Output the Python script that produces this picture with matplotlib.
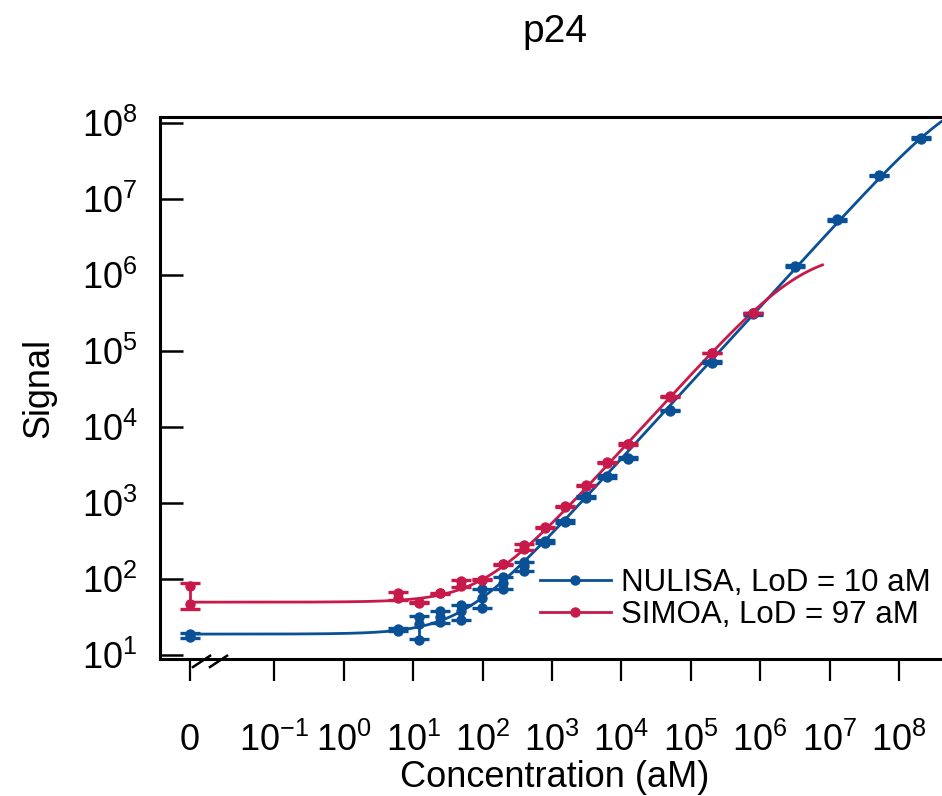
import numpy as np
import matplotlib
matplotlib.use('Agg')
import matplotlib.pyplot as plt
from matplotlib.lines import Line2D

plt.rcParams['font.family'] = ['Liberation Sans', 'DejaVu Sans']
plt.rcParams['mathtext.fontset'] = 'custom'
plt.rcParams['mathtext.rm'] = 'Liberation Sans'
plt.rcParams['mathtext.it'] = 'Liberation Sans:italic'

# ## Data ## #

# concentrations in aM (0 is drawn at a fake position left of the break)
concNulisa = [0, 6.1, 12.2, 24.4, 48.8, 97.7, 195, 391, 781, 1563, 3125,
              6250, 12500, 50000, 2e5, 8e5, 3.2e6, 1.28e7, 5.12e7, 2.048e8]
concSimoa = [0, 6.1, 12.2, 24.4, 48.8, 97.7, 195, 391, 781, 1563, 3125,
             6250, 12500, 50000, 2e5, 8e5]

# replicate signals for every concentration
signalNulisa = [[19, 17.2], [22.5, 21], [32, 26, 16], [38, 32, 27],
                [46, 38, 29], [74, 57, 42], [108, 90, 74], [170, 150, 128],
                [320, 300], [590, 560], [1230, 1170], [2300, 2200],
                [4000, 3850], [16800, 16300], [73000, 70500],
                [315000, 305000], [1.34e6, 1.3e6], [5.5e6, 5.3e6],
                [2.08e7, 2.05e7], [6.5e7, 6.3e7]]
signalSimoa = [[82, 48], [66, 56], [50, 49], [66, 65], [96, 82], [99, 97],
               [160, 157], [285, 250], [490, 478], [910, 890], [1740, 1710],
               [3450, 3400], [6100, 5950], [25600, 25200], [96000, 95000],
               [323000, 320000]]

# 4PL fit parameters: bottom, top, ec50, hill slope
fitNulisa = [19, 3.2e8, 8.3e8, 1.0]
fitSimoa = [50, 2.1e6, 4.2e6, 1.0]
fitEndNulisa = 5e8
fitEndSimoa = 7.9e6

labels = ['NULISA, LoD = 10 aM', 'SIMOA, LoD = 97 aM']
colors = ['#0A5096', '#C8194B']

xTickExp = [-1, 0, 1, 2, 3, 4, 5, 6, 7, 8]
yTickExp = [1, 2, 3, 4, 5, 6, 7, 8]

zeroPos = 10 ** -2.22  # where the 0 concentration sits on the log axis


def logistic(x, p):
    # four parameter logistic curve
    a, d, c, b = p
    return d + (a - d) / (1 + (x / c) ** b)


def plot_series(ax, conc, signal, fit, fitEnd, color):
    conc = np.array(conc, dtype=float)
    xPos = np.where(conc == 0, zeroPos, conc)

    xs = np.logspace(np.log10(zeroPos), np.log10(fitEnd), 400)
    ax.plot(xs, logistic(xs, fit), color=color, lw=2.0, zorder=2)

    means = np.array([np.mean(s) for s in signal])
    sds = np.array([np.std(s, ddof=1) for s in signal])
    ax.errorbar(xPos, means, yerr=sds, fmt='none', ecolor=color,
                elinewidth=2.0, capsize=7.5, capthick=2.4, zorder=3)

    xRep = np.concatenate([[x] * len(s) for x, s in zip(xPos, signal)])
    yRep = np.concatenate([s for s in signal])
    ax.plot(xRep, yRep, 'o', color=color, ms=7.5, mew=0, zorder=4)


def main():
    fig = plt.figure(figsize=(9.42, 7.96), dpi=100)
    ax = fig.add_axes([160 / 942, 137 / 796, 782 / 942, 542 / 796])

    plot_series(ax, concNulisa, signalNulisa, fitNulisa, fitEndNulisa,
                colors[0])
    plot_series(ax, concSimoa, signalSimoa, fitSimoa, fitEndSimoa,
                colors[1])

    ax.set_xscale('log')
    ax.set_yscale('log')
    ax.set_xlim(10 ** -2.65, 10 ** 8.62)
    ax.set_ylim(10 ** 0.951, 10 ** 8.083)

    ax.set_xticks([zeroPos] + [10.0 ** e for e in xTickExp])
    ax.set_xticklabels(['0'] + [r'$\mathregular{10^{%d}}$' % e
                                for e in xTickExp])
    ax.set_yticks([10.0 ** e for e in yTickExp])
    ax.set_yticklabels([r'$\mathregular{10^{%d}}$' % e for e in yTickExp])
    ax.minorticks_off()

    ax.tick_params(axis='x', direction='out', length=16, width=1.6,
                   pad=30, labelsize=26)
    ax.tick_params(axis='y', direction='in', length=16.5, width=1.8,
                   pad=16, labelsize=26)

    for side in ['left', 'bottom', 'top']:
        ax.spines[side].set_linewidth(2.2)
    ax.spines['right'].set_visible(False)

    # axis break marks between 0 and 10^-1
    for x0 in [0.0422, 0.0639]:
        ax.plot([x0, x0 + 0.0218], [-0.0148, 0.006], transform=ax.transAxes,
                color='black', lw=1.8, clip_on=False, zorder=5)

    ax.set_xlabel('Concentration (aM)', fontsize=26)
    ax.xaxis.set_label_coords(0.505, -0.186)
    ax.xaxis.label.set_va('top')
    ax.set_ylabel('Signal', fontsize=26)
    ax.yaxis.set_label_coords(-0.132, 0.5)

    fig.text(555 / 942, 1 - 42 / 796, 'p24', fontsize=28, ha='center',
             va='baseline')

    handles = [Line2D([], [], color=c, lw=2.0, marker='o', ms=7.5, mew=0)
               for c in colors]
    ax.legend(handles, labels, loc='center left',
              bbox_to_anchor=(0.486, 0.111), frameon=False, fontsize=22.5,
              borderpad=0, borderaxespad=0, handlelength=2.26,
              handletextpad=0.32, labelspacing=0.05, numpoints=1)

    fig.savefig('out.png', dpi=100)


if __name__ == '__main__':
    main()
